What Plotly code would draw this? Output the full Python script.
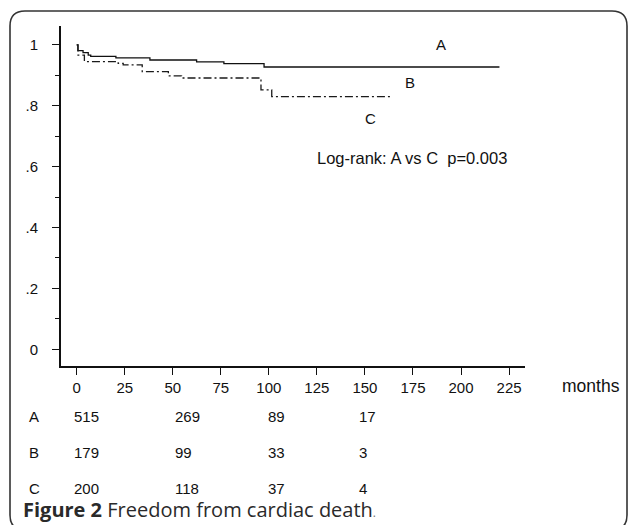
import plotly.graph_objects as go

# ---- data ----
months_A = [0, 0.6, 3.3, 6.0, 7.3, 20.4, 38.1, 62.4, 76.6, 97.5, 220]
surv_A = [1.0, 0.981, 0.974, 0.966, 0.962, 0.957, 0.950, 0.944, 0.938, 0.927, 0.927]

months_C = [0, 0.7, 4.0, 21.6, 24.2, 34.1, 47.7, 54.6, 95.9, 101.5, 164]
surv_C = [1.0, 0.966, 0.945, 0.939, 0.934, 0.912, 0.898, 0.891, 0.852, 0.830, 0.830]

x_ticks = [0, 25, 50, 75, 100, 125, 150, 175, 200, 225]
y_ticks = [0, 0.2, 0.4, 0.6, 0.8, 1.0]
y_tick_text = ["0", ".2", ".4", ".6", ".8", "1"]
y_minor = [0.1, 0.3, 0.5, 0.7, 0.9]

risk_groups = ["A", "B", "C"]
risk_counts = [["515", "269", "89", "17"],
               ["179", "99", "33", "3"],
               ["200", "118", "37", "4"]]

# ---- geometry (pixels) ----
W, H = 629, 525
PL, PR, PT, PB = 61, 525, 26, 366


def X(px):
    return (px - PL) / (PR - PL)


def Y(py):
    return (PB - py) / (PB - PT)


FONT = "Liberation Sans, Arial, sans-serif"
INK = "#111111"

fig = go.Figure()
fig.add_trace(go.Scatter(x=months_A, y=surv_A, mode="lines", line_shape="hv",
                         line=dict(color="#111111", width=1.3), showlegend=False))
fig.add_trace(go.Scatter(x=months_C, y=surv_C, mode="lines", line_shape="hv",
                         line=dict(color="#1a1a1a", width=1.3, dash="8px,3px,2px,3px"),
                         showlegend=False))

ann = []
def txt(px, py, s, size=15, xanchor="center", color=INK, family=FONT):
    ann.append(dict(x=X(px), y=Y(py), xref="paper", yref="paper", text=s,
                    showarrow=False, xanchor=xanchor, yanchor="middle",
                    font=dict(family=family, size=size, color=color)))

txt(441, 44, "A", 15)
txt(410, 83, "B", 15)
txt(370, 118, "C", 15)
txt(412, 158, "Log-rank: A vs C \u00a0p=0.003", 16.5)
txt(591, 386, "months", 17.5)

row_y = [416, 452, 488]
col_x = [72, 173, 266, 357]
for g, counts, ry in zip(risk_groups, risk_counts, row_y):
    txt(27, ry, g, 15, xanchor="left")
    for cx, c in zip(col_x, counts):
        txt(cx, ry, c, 15, xanchor="left")

txt(21, 509, "<b>Figure 2</b> Freedom from cardiac death<span style='font-size:12px;color:#777'>.</span>",
    20, xanchor="left", color="#2a2a2a", family="Open Sans, sans-serif")

# rounded frame
r = 15
L, T, R, B = 10, 11, 627, 530
path = (f"M {X(L)},{Y(B - r)} L {X(L)},{Y(T + r)} Q {X(L)},{Y(T)} {X(L + r)},{Y(T)} "
        f"L {X(R - r)},{Y(T)} Q {X(R)},{Y(T)} {X(R)},{Y(T + r)} L {X(R)},{Y(B - r)} "
        f"Q {X(R)},{Y(B)} {X(R - r)},{Y(B)} L {X(L + r)},{Y(B)} Q {X(L)},{Y(B)} {X(L)},{Y(B - r)} Z")

fig.update_layout(
    width=W, height=H,
    margin=dict(l=PL, r=W - PR, t=PT, b=H - PB),
    paper_bgcolor="white", plot_bgcolor="white",
    annotations=ann,
    shapes=[dict(type="path", xref="paper", yref="paper", path=path,
                 line=dict(color="#333333", width=1.6), layer="below")],
    xaxis=dict(range=[-8.17, 233.3], tickvals=x_ticks, ticks="outside", ticklen=7,
               tickwidth=1.3, tickcolor=INK, showline=True, linecolor=INK, linewidth=2,
               showgrid=False, zeroline=False, ticklabelstandoff=0,
               tickfont=dict(family=FONT, size=15, color=INK)),
    yaxis=dict(range=[-0.0548, 1.0617], tickvals=y_ticks, ticktext=y_tick_text,
               ticks="outside", ticklen=7, tickwidth=1.3, tickcolor=INK,
               showline=True, linecolor=INK, linewidth=2, showgrid=False, zeroline=False,
               ticklabelstandoff=11, tickfont=dict(family=FONT, size=15, color=INK),
               minor=dict(tickvals=y_minor, ticks="outside", ticklen=4, tickwidth=1.3,
                          tickcolor=INK, showgrid=False)),
)

fig.write_html("out.html", config={"displayModeBar": False},
               post_script="document.body.style.margin='0';document.body.style.overflow='hidden';")
